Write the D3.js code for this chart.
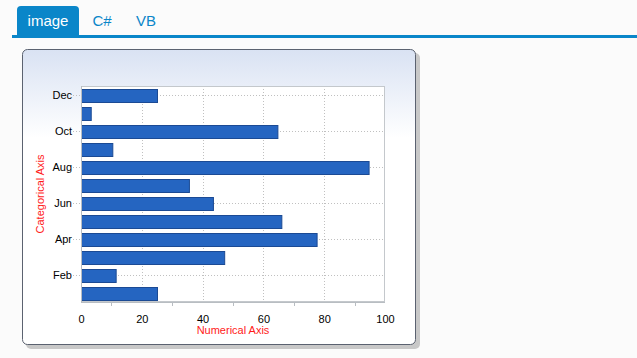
<!DOCTYPE html>
<html><head><meta charset="utf-8">
<script src="https://cdn.jsdelivr.net/npm/d3@7"></script>
<style>
html,body{margin:0;padding:0;background:#fbfbfb;}
svg{display:block;font-family:"Liberation Sans",Arial,sans-serif;}
</style></head>
<body>
<svg id="c" width="637" height="358"></svg>
<script>
const categories = ["Jan","Feb","Mar","Apr","May","Jun","Jul","Aug","Sep","Oct","Nov","Dec"];
const values = [25.0, 11.4, 47.1, 77.5, 65.9, 43.4, 35.5, 94.6, 10.3, 64.6, 3.2, 25.0];
const labeledCategories = ["Feb","Apr","Jun","Aug","Oct","Dec"];
const xTicks = [0, 20, 40, 60, 80, 100];
const xMinorTicks = [10, 30, 50, 70, 90];
const tabs = ["image", "C#", "VB"];

const svg = d3.select("#c");
const defs = svg.append("defs");
const g1 = defs.append("linearGradient").attr("id","bg").attr("x1",0).attr("y1",0).attr("x2",0).attr("y2",1);
g1.append("stop").attr("offset","0").attr("stop-color","#d9e2f3");
g1.append("stop").attr("offset","0.3").attr("stop-color","#ffffff");
g1.append("stop").attr("offset","1").attr("stop-color","#ffffff");

// tabs
const tabCenters = [48, 102, 146];
svg.append("path").attr("d", (() => { const x=17,y=6,w=62,h=30,r=4; return `M${x},${y+h}V${y+r}Q${x},${y} ${x+r},${y}H${x+w-r}Q${x+w},${y} ${x+w},${y+r}V${y+h}Z`; })())
  .attr("fill","#0a86c9");
svg.append("rect").attr("x",12).attr("y",35).attr("width",625).attr("height",3).attr("fill","#0a86c9");
tabs.forEach((t,i)=>{
  svg.append("text").attr("x", tabCenters[i]).attr("y",26).attr("text-anchor","middle")
    .attr("font-size",15).attr("fill", i===0 ? "#ffffff" : "#0a86c9").text(t);
});

// chart box with shadow
svg.append("rect").attr("x",26).attr("y",53).attr("width",394).attr("height",296).attr("rx",5).attr("fill","#c8c8c8");
svg.append("rect").attr("x",22.5).attr("y",49.5).attr("width",393).attr("height",295).attr("rx",5)
  .attr("fill","url(#bg)").attr("stroke","#5b6270").attr("stroke-width",1);

const m = {left:81, right:385, top:86, bottom:302};
const x = d3.scaleLinear().domain([0,100]).range([m.left, m.right]);
const y = d3.scaleBand().domain(categories.slice().reverse()).range([m.top, m.bottom]).paddingInner(0.28).paddingOuter(0.14);

// plot background
svg.append("rect").attr("x",m.left).attr("y",m.top).attr("width",m.right-m.left).attr("height",m.bottom-m.top).attr("fill","#ffffff");

// vertical grid
svg.append("g").selectAll("line").data(xTicks.slice(1,-1)).join("line")
  .attr("x1",d=>Math.round(x(d))+0.5).attr("x2",d=>Math.round(x(d))+0.5)
  .attr("y1",m.top).attr("y2",m.bottom)
  .attr("stroke","#c0c0c0").attr("stroke-dasharray","1,2");
// horizontal grid at labeled categories, extending left as ticks
svg.append("g").selectAll("line").data(labeledCategories).join("line")
  .attr("x1",m.left-8).attr("x2",m.right)
  .attr("y1",d=>Math.round(y(d)+y.bandwidth()/2)+0.5).attr("y2",d=>Math.round(y(d)+y.bandwidth()/2)+0.5)
  .attr("stroke","#c0c0c0").attr("stroke-dasharray","1,2");

// bars
svg.append("g").selectAll("rect").data(categories).join("rect")
  .attr("x",m.left+0.5).attr("y",d=>Math.round(y(d))+0.5)
  .attr("width",(d,i)=>x(values[i])-m.left)
  .attr("height",Math.round(y.bandwidth()))
  .attr("fill","#2565c1").attr("stroke","#1b4a94").attr("stroke-width",1);

// plot border
svg.append("rect").attr("x",m.left+0.5).attr("y",m.top+0.5).attr("width",m.right-m.left-1).attr("height",m.bottom-m.top-1)
  .attr("fill","none").attr("stroke","#c4c8cc").attr("stroke-width",1);
svg.append("line").attr("x1",m.left+0.5).attr("x2",m.left+0.5).attr("y1",m.top).attr("y2",m.bottom+1).attr("stroke","#b8bdc2");
svg.append("line").attr("x1",m.left).attr("x2",m.right).attr("y1",m.bottom+0.5).attr("y2",m.bottom+0.5).attr("stroke","#b8bdc2");

// x axis
const xAxis = d3.axisBottom(x).tickValues(xTicks).tickSize(0).tickPadding(13);
const xg = svg.append("g").attr("transform",`translate(0,${m.bottom})`).call(xAxis);
xg.select(".domain").remove();
xg.selectAll("text").attr("font-size",11).attr("fill","#000").attr("font-family","Liberation Sans, Arial, sans-serif");
svg.append("g").selectAll("line").data(xMinorTicks).join("line")
  .attr("x1",d=>Math.round(x(d))+0.5).attr("x2",d=>Math.round(x(d))+0.5)
  .attr("y1",m.bottom+1).attr("y2",m.bottom+4).attr("stroke","#b8bdc2");

// y axis
const yAxis = d3.axisLeft(y).tickValues(labeledCategories).tickSize(0).tickPadding(9);
const yg = svg.append("g").attr("transform",`translate(${m.left},0)`).call(yAxis);
yg.select(".domain").remove();
yg.selectAll("text").attr("font-size",11).attr("fill","#000").attr("font-family","Liberation Sans, Arial, sans-serif");

// axis titles
svg.append("text").attr("x",(m.left+m.right)/2).attr("y",334).attr("text-anchor","middle")
  .attr("font-size",11).attr("fill","#ff1a1a").text("Numerical Axis");
svg.append("text").attr("transform",`translate(44,${(m.top+m.bottom)/2}) rotate(-90)`).attr("text-anchor","middle")
  .attr("font-size",11).attr("fill","#ff1a1a").text("Categorical Axis");
</script>
</body></html>
